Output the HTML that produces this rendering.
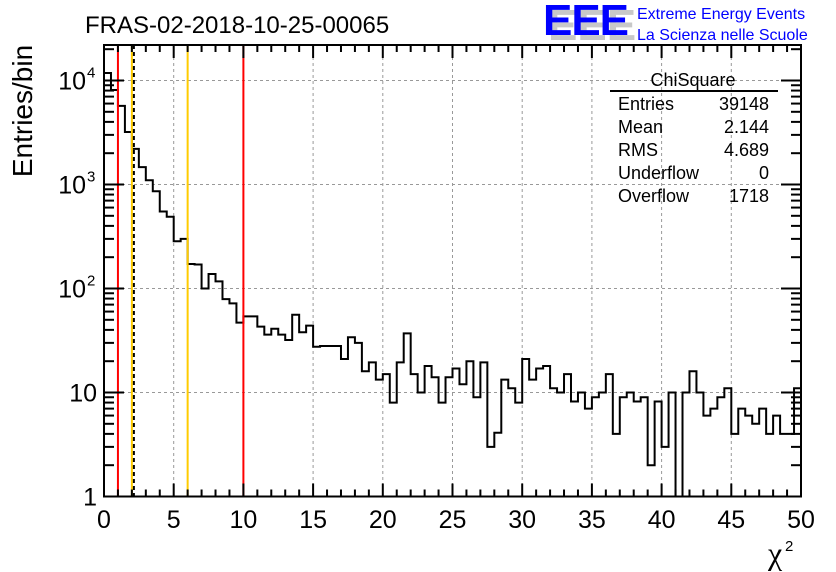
<!DOCTYPE html>
<html><head><meta charset="utf-8"><style>
body{margin:0;background:#fff;}
svg{display:block;font-family:"Liberation Sans",sans-serif;}
</style></head><body>
<svg id="c" width="836" height="572" viewBox="0 0 836 572"></svg>
<script>
const binEdges = [0, 50];
const counts = [11800,8100,5700,3200,2200,1470,1100,860,550,490,285,300,172,170,100,138,117,79,72,47,54,54,43,36,41,36,32,56,38,44,27.5,28,28,28,21,34,30,16,19.5,13.3,15,8,19.5,37,15,10,18,14,8,14,17,12,20,9,19.5,3,4.1,13.3,11,8,21,13.3,17,18,11,10,15,8.2,10,7,9,10,15,4,9,10,8.2,9,2,8.2,3,10,0,10,16,10,6,7,9,11,4,7,6,5,7,4,6,4,4,11];
const xTicks = [0,5,10,15,20,25,30,35,40,45,50];
const yDecades = [0,1,2,3,4];
const vLines = [{x:1,c:"#ff0000",d:""},{x:2,c:"#ffcc00",d:""},{x:2.144,c:"#000",d:"4,3"},{x:6,c:"#ffcc00",d:""},{x:10,c:"#ff0000",d:""}];
const statLabels = ["Entries","Mean","RMS","Underflow","Overflow"];
const statValues = ["39148","2.144","4.689","0","1718"];

const L=104,R=801,T=45,B=496.5,DEC=104;
const NS="http://www.w3.org/2000/svg";
const svg=document.getElementById('c');
function X(v){return L+(v-binEdges[0])/(binEdges[1]-binEdges[0])*(R-L);}
function Y(v){if(v<=0)return B;return Math.max(T,B-Math.log10(v)*DEC);}
function el(t,a,txt){const e=document.createElementNS(NS,t);for(const k in a)e.setAttribute(k,a[k]);if(txt!==undefined)e.textContent=txt;svg.appendChild(e);return e;}

for(const t of xTicks){if(t===0||t===50)continue;
 const g=el('line',{x1:X(t),x2:X(t),y1:T,y2:B,stroke:"#999","stroke-dasharray":"3,3","stroke-width":1});
 
 }
for(const d of yDecades){if(d===0)continue;
 const g=el('line',{x1:L,x2:R,y1:Y(Math.pow(10,d)),y2:Y(Math.pow(10,d)),stroke:"#999","stroke-dasharray":"3,3","stroke-width":1});
 
 }

const bw=(binEdges[1]-binEdges[0])/counts.length;
let p="M"+X(0)+","+B;
counts.forEach((c,i)=>{const y=Y(c);p+=" L"+X(i*bw)+","+y+" L"+X((i+1)*bw)+","+y;});
const h=el('path',{d:p,fill:"none",stroke:"#000","stroke-width":2});



for(const v of vLines){
 const a={x1:X(v.x),x2:X(v.x),y1:T,y2:B,stroke:v.c,"stroke-width":2};
 if(v.d)a["stroke-dasharray"]=v.d;
 const ln=el('line',a);
 
 }

const fr=el('rect',{x:L,y:T,width:R-L,height:B-T,fill:"none",stroke:"#000","stroke-width":2});



for(let v=0;v<=50;v+=1){const big=v%5===0;const len=big?13:7;
 el('line',{x1:X(v),x2:X(v),y1:B,y2:B-len,stroke:"#000","stroke-width":2});
 el('line',{x1:X(v),x2:X(v),y1:T,y2:T+len,stroke:"#000","stroke-width":2});}
for(const t of xTicks){
 const tx=el('text',{x:X(t),y:528,"font-size":25,"text-anchor":"middle"},String(t));
 
 }
for(let d=0;d<=4;d++){for(let m=1;m<=9;m++){const v=m*Math.pow(10,d);const y=B-Math.log10(v)*DEC;if(y<T)continue;
 const len=m===1?20:10;
 el('line',{x1:L,x2:L+len,y1:y,y2:y,stroke:"#000","stroke-width":2});
 el('line',{x1:R,x2:R-len,y1:y,y2:y,stroke:"#000","stroke-width":2});}}
for(const d of yDecades){const y=Y(Math.pow(10,d));
 let t;
 if(d===0)t=el('text',{x:97,y:y+9,"font-size":25,"text-anchor":"end"},"1");
 else if(d===1)t=el('text',{x:97,y:y+9,"font-size":25,"text-anchor":"end"},"10");
 else{t=el('text',{x:86,y:y+9,"font-size":25,"text-anchor":"end"},"10");
  const s=el('text',{x:87,y:y-3,"font-size":15,"text-anchor":"start"},String(d));
  
  }
 
 }
</script>
<script>
(function(){
const svg=document.getElementById('c');const NS="http://www.w3.org/2000/svg";
function el(t,a,txt){const e=document.createElementNS(NS,t);for(const k in a)e.setAttribute(k,a[k]);if(txt!==undefined)e.textContent=txt;svg.appendChild(e);return e;}
let e;
e=el('text',{x:85,y:33,"font-size":24},"FRAS-02-2018-10-25-00065");

e=el('text',{x:0,y:0,"font-size":28,"text-anchor":"middle",transform:"translate(32,111) rotate(-90)"},"Entries/bin");

e=el('text',{x:768,y:564,"font-size":32,"font-family":"Liberation Serif, serif"},"χ");

el('text',{x:785,y:551,"font-size":15},"2");
el('text',{x:548,y:40,"font-size":44,"font-weight":"bold",fill:"#c8c8c8"},"EEE");
e=el('text',{x:543,y:35,"font-size":44,"font-weight":"bold",fill:"#0000ff",textLength:86},"EEE");

e=el('text',{x:637,y:19,"font-size":16,fill:"#0000ff"},"Extreme Energy Events");

e=el('text',{x:637,y:40,"font-size":16,fill:"#0000ff"},"La Scienza nelle Scuole");

e=el('text',{x:693,y:86,"font-size":18,"text-anchor":"middle"},"ChiSquare");

el('line',{x1:610,x2:778,y1:91,y2:91,stroke:"#000","stroke-width":2});
statLabels.forEach((l,i)=>{
 const y=110+i*23;
 const a=el('text',{x:618,y:y,"font-size":18},l);
 
 const b=el('text',{x:769,y:y,"font-size":18,"text-anchor":"end"},statValues[i]);
 
});
})();
</script>
</body></html>
